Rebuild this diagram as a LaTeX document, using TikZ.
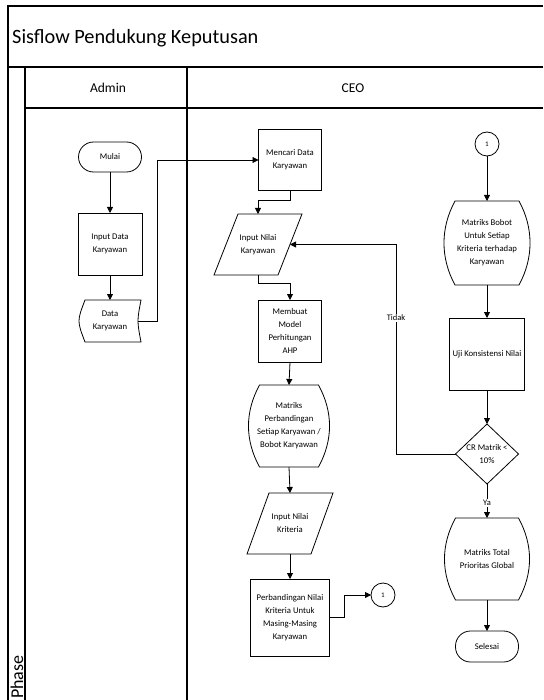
\documentclass[tikz,border=0pt]{standalone}
\usepackage{fontspec}
\setmainfont{Carlito}
\usetikzlibrary{arrows.meta,calc}
\newcommand\txtsz{\fontsize{8.7}{13}\selectfont}
\tikzset{
  lane/.style={line width=1.2pt},
  shp/.style={line width=0.8pt},
  arr/.style={line width=0.8pt,-{Triangle[length=6pt,width=6pt]}},
  proc/.style={draw,shp,rectangle,inner sep=0pt,outer sep=0pt,align=center,font=\txtsz},
  term/.style={draw,shp,rectangle,rounded corners=15pt,minimum width=63pt,minimum height=30pt,inner sep=0pt,outer sep=0pt,align=center,font=\txtsz},
  boxx/.style={rectangle,inner sep=0pt,outer sep=0pt,align=center,font=\txtsz},
  circ/.style={draw,shp,circle,minimum size=24pt,inner sep=0pt,outer sep=0pt,font=\fontsize{7}{8}\selectfont},
  lbl/.style={fill=white,inner sep=1.5pt,font=\fontsize{8.5}{10}\selectfont},
}
% display shape: straight top/bottom, arc-shaped sides (inset 11pt at corners)
\newcommand\displayshape[1]{%
  \draw[shp] ([xshift=11pt]#1.north west) -- ([xshift=-11pt]#1.north east)
    .. controls ([xshift=3.7pt,yshift=-27pt]#1.north east) and ([xshift=3.7pt,yshift=27pt]#1.south east) .. ([xshift=-11pt]#1.south east)
    -- ([xshift=11pt]#1.south west)
    .. controls ([xshift=-3.7pt,yshift=27pt]#1.south west) and ([xshift=-3.7pt,yshift=-27pt]#1.north west) .. cycle;}
\newcommand\ioshape[2]{%
  \draw[shp] (#1.south west) -- ([xshift=-#2]#1.south east) -- (#1.north east) -- ([xshift=#2]#1.north west) -- cycle;}
\begin{document}
\begin{tikzpicture}[x=1pt,y=-1pt]
\useasboundingbox (0,0) rectangle (543,700);
% frame
\draw[lane] (8,700) -- (8,6) -- (543,6);
\draw[lane] (8,67) -- (543,67);
\draw[lane] (25,67) -- (25,700);
\draw[lane] (25,108) -- (543,108);
\draw[lane] (187,67) -- (187,700);
\node[anchor=base west,inner sep=0pt,font=\fontsize{20.3}{24}\selectfont] (title) at (12,44) {Sisflow Pendukung Keputusan};
\node[font=\fontsize{13.5}{16}\selectfont] (admin) at (108,88) {Admin};
\node[font=\fontsize{13.5}{16}\selectfont] (ceo) at (353,88) {CEO};
\node[rotate=90,anchor=base west,inner sep=0pt,font=\fontsize{18}{20}\selectfont] (phase) at (23,699) {Phase};
% admin lane
\node[term] (mulai) at (110,157) {Mulai};
\node[proc,minimum width=64pt,minimum height=62pt] (inputdata) at (110,244) {Input Data\\Karyawan};
\node[boxx,minimum width=62pt,minimum height=42pt] (datak) at (110,321) {Data\\Karyawan};
\draw[shp] ([xshift=6pt]datak.north west) -- (datak.north east)
  .. controls ([xshift=-4pt]datak.east) .. (datak.south east)
  -- ([xshift=6pt]datak.south west)
  .. controls ([xshift=-2pt]datak.west) .. cycle;
% CEO lane, left column
\node[proc,minimum width=63pt,minimum height=61pt] (mencari) at (290,160) {Mencari Data\\Karyawan};
\node[boxx,minimum width=88pt,minimum height=61pt] (inputnilai) at (258,244.5) {Input Nilai\\Karyawan};
\ioshape{inputnilai}{24pt}
\node[proc,minimum width=63pt,minimum height=62pt] (membuat) at (290,331) {Membuat\\Model\\Perhitungan\\AHP};
\node[boxx,minimum width=81pt,minimum height=82pt] (matP) at (289,426) {Matriks\\Perbandingan\\Setiap Karyawan /\\Bobot Karyawan};
\displayshape{matP}
\node[boxx,minimum width=86pt,minimum height=61pt] (inputkrit) at (290,523.5) {Input Nilai\\Kriteria};
\ioshape{inputkrit}{22pt}
\node[proc,minimum width=79pt,minimum height=77pt] (perb) at (290,617.5) {Perbandingan Nilai\\Kriteria Untuk\\Masing-Masing\\Karyawan};
\node[circ] (c1a) at (383,595) {1};
% CEO lane, right column
\node[circ] (c1b) at (487,144) {1};
\node[boxx,minimum width=86pt,minimum height=84pt] (matB) at (487,243) {Matriks Bobot\\Untuk Setiap\\Kriteria terhadap\\Karyawan};
\displayshape{matB}
\node[proc,minimum width=75pt,minimum height=72pt] (uji) at (487,354) {Uji Konsistensi Nilai};
\node[boxx,minimum width=63pt,minimum height=60pt] (cr) at (487,454) {CR Matrik <\\10\%};
\draw[shp] (cr.north) -- (cr.east) -- (cr.south) -- (cr.west) -- cycle;
\node[boxx,minimum width=85pt,minimum height=82pt] (matT) at (487,559) {Matriks Total\\Prioritas Global};
\displayshape{matT}
\node[term,minimum height=31pt] (selesai) at (487,646.5) {Selesai};
% connectors
\draw[arr] (mulai.south) -- (inputdata.north);
\draw[arr] (inputdata.south) -- (datak.north);
\draw[arr] ([xshift=-3pt]datak.east) -- ++(19,0) |- (mencari.west);
\draw[arr] (mencari.south) -- ++(0,10) -| (inputnilai.north);
\draw[arr] (inputnilai.south) -- ++(0,8) -| (membuat.north);
\draw[arr] (membuat.south) -- (matP.north);
\draw[arr] (matP.south) -- (inputkrit.north);
\draw[arr] (inputkrit.south) -- (perb.north);
\draw[arr] (perb.east) -- ++(15,0) |- (c1a.west);
\draw[arr] (c1b.south) -- (matB.north);
\draw[arr] (matB.south) -- (uji.north);
\draw[arr] (uji.south) -- (cr.north);
\draw[arr] (cr.west) -- ++(-59.5,0) |- ([xshift=-12pt]inputnilai.east);
\node[lbl] (tidak) at (396,318) {Tidak};
\draw[arr] (cr.south) -- (matT.north);
\node[lbl] (ya) at (487,503) {Ya};
\draw[arr] (matT.south) -- (selesai.north);
\end{tikzpicture}
\end{document}
